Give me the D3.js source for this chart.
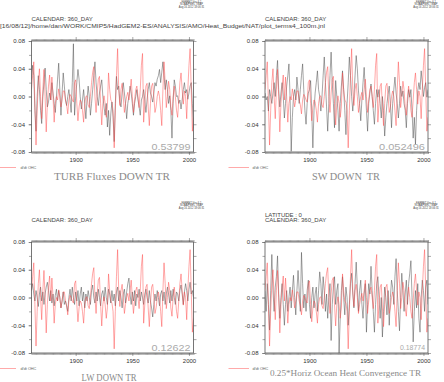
<!DOCTYPE html>
<html>
<head>
<meta charset="utf-8">
<script src="https://cdn.jsdelivr.net/npm/d3@7"></script>
<style>
body { margin: 0; background: #fff; }
svg text { font-family: "Liberation Sans", Arial, sans-serif; }
svg text.title { font-family: "Liberation Serif", "Times New Roman", serif; }
</style>
</head>
<body>
<svg id="chart" width="444" height="382"></svg>
<script>
// annual values, first year = startYear
const startYear = 1861;

const ohcTrend = [
  0.010, 0.030, 0.050, -0.010, -0.070, -0.020, 0.020, 0.040, 0.000, -0.032,
  0.010, 0.039, 0.000, -0.051, -0.010, 0.015, 0.031, -0.005, 0.028, 0.000,
  -0.037, -0.010, 0.000, -0.005, 0.011, 0.000, -0.015, -0.005, 0.008, 0.008,
  -0.005, -0.012, -0.025, -0.005, 0.003, 0.000, -0.005, -0.008, 0.020, 0.024,
  -0.010, -0.035, -0.015, -0.005, -0.008, -0.020, -0.037, -0.010, 0.000, 0.001,
  -0.012, -0.016, 0.000, 0.020, 0.035, 0.043, 0.000, -0.023, 0.005, 0.025,
  0.029, -0.010, -0.041, -0.010, 0.001, -0.010, -0.030, -0.015, 0.034, 0.010,
  -0.005, -0.008, -0.020, -0.074, -0.020, 0.030, 0.069, 0.010, -0.013, 0.010,
  0.019, 0.000, -0.023, -0.010, 0.000, 0.006, -0.005, 0.010, 0.025, 0.000,
  -0.023, -0.005, 0.010, 0.015, 0.000, -0.016, 0.010, 0.045, 0.062, -0.037,
  -0.010, 0.015, 0.019, -0.015, -0.042, -0.010, 0.015, 0.019, 0.000, -0.023,
  -0.015, 0.000, 0.008, 0.000, -0.020, -0.042, 0.010, 0.050, 0.020, -0.016,
  0.000, 0.022, 0.010, -0.015, -0.027, 0.000, 0.015, 0.000, -0.020, -0.030,
  -0.005, 0.020, 0.034, 0.010, -0.011, 0.008, 0.000, -0.032, 0.010, 0.045,
  0.069, 0.010, -0.050, -0.030
];

const turbDown = [
  0.024, 0.045, 0.030, -0.020, -0.050, 0.000, 0.030, 0.010, -0.020, -0.039,
  0.000, 0.020, 0.041, 0.010, -0.015, -0.008, 0.005, -0.005, 0.020, 0.005,
  -0.010, -0.023, 0.000, 0.025, 0.048, 0.010, -0.027, 0.005, 0.034, 0.015,
  -0.005, -0.013, 0.000, 0.010, -0.005, -0.023, 0.020, 0.076, -0.027, 0.000,
  0.020, 0.039, 0.025, 0.000, -0.018, -0.005, 0.010, -0.010, -0.032, -0.005,
  0.015, 0.000, -0.027, -0.010, 0.010, 0.030, 0.050, 0.020, 0.000, -0.013,
  0.005, 0.015, 0.024, 0.000, -0.015, -0.027, -0.010, -0.044, -0.020, -0.056,
  -0.025, -0.008, -0.030, -0.065, -0.010, 0.029, 0.010, 0.015, -0.008, -0.015,
  0.005, 0.020, 0.005, -0.010, -0.032, -0.010, 0.000, 0.015, 0.005, -0.010,
  -0.027, -0.010, 0.000, 0.010, -0.005, -0.015, -0.027, -0.005, 0.000, 0.010,
  -0.005, -0.023, -0.005, 0.010, 0.020, 0.005, 0.000, -0.008, 0.005, 0.020,
  0.015, 0.025, 0.030, 0.039, 0.020, 0.035, 0.050, 0.030, 0.010, 0.024,
  0.010, -0.010, 0.001, -0.020, -0.060, -0.010, 0.024, 0.015, 0.000, 0.001,
  -0.010, -0.005, -0.018, -0.005, 0.010, 0.020, 0.005, 0.010, -0.004, 0.005,
  0.015, 0.020, -0.010, -0.046
];

const swDown = [
  0.005, -0.005, 0.000, -0.021, 0.010, 0.000, -0.010, 0.005, 0.020, 0.000,
  0.030, 0.052, 0.010, -0.015, 0.005, 0.020, 0.000, -0.031, -0.010, 0.015,
  0.030, 0.047, 0.000, -0.079, -0.030, 0.000, 0.010, -0.005, 0.028, 0.010,
  -0.010, 0.010, 0.030, 0.047, 0.010, -0.020, -0.040, -0.010, 0.005, 0.010,
  0.023, -0.020, -0.074, -0.020, 0.005, 0.020, 0.037, 0.010, 0.000, -0.021,
  0.000, 0.030, 0.057, 0.020, -0.015, -0.050, -0.010, 0.030, 0.064, 0.020,
  -0.010, -0.045, 0.023, 0.000, -0.020, -0.050, -0.010, 0.015, 0.037, 0.010,
  -0.020, -0.055, -0.010, 0.020, 0.057, 0.030, 0.000, -0.021, 0.000, 0.030,
  0.059, 0.040, 0.008, -0.010, -0.035, -0.005, 0.020, 0.042, 0.010, -0.020,
  -0.050, -0.010, 0.005, 0.018, 0.000, -0.020, -0.040, -0.010, 0.010, -0.001,
  0.010, -0.010, -0.031, 0.000, -0.020, -0.057, -0.030, -0.010, 0.003, 0.015,
  -0.010, -0.045, -0.010, 0.010, 0.028, 0.005, -0.010, -0.031, -0.010, 0.015,
  0.000, 0.008, -0.010, -0.020, -0.045, -0.010, 0.010, -0.001, 0.010, -0.020,
  -0.060, -0.030, -0.069, -0.020, 0.008, 0.020, 0.010, 0.037, 0.020, 0.000,
  0.013, 0.020, -0.001, 0.010
];

const lwDown = [
  0.010, 0.020, 0.005, -0.005, 0.010, 0.000, -0.013, 0.005, 0.015, -0.005,
  0.008, -0.010, 0.005, 0.015, 0.022, 0.010, -0.005, 0.010, -0.008, 0.005,
  -0.012, 0.003, 0.012, -0.005, 0.010, 0.000, -0.015, -0.005, 0.008, -0.010,
  -0.005, -0.012, -0.020, 0.000, 0.012, -0.005, 0.015, 0.000, -0.010, 0.008,
  -0.005, 0.010, -0.012, 0.005, 0.015, -0.005, 0.008, -0.015, 0.005, -0.005,
  0.010, 0.000, -0.010, 0.010, 0.018, 0.000, -0.008, 0.008, -0.005, 0.012,
  0.000, -0.012, 0.005, 0.010, -0.005, 0.015, 0.000, -0.010, 0.012, 0.005,
  -0.008, 0.010, -0.005, 0.005, -0.012, 0.008, 0.015, -0.005, 0.010, 0.000,
  -0.015, 0.005, 0.012, -0.008, 0.008, 0.020, 0.028, 0.005, -0.010, 0.008,
  -0.005, 0.010, -0.012, 0.005, 0.000, 0.012, -0.005, 0.008, 0.000, -0.010,
  0.005, 0.012, 0.000, -0.008, 0.010, -0.005, -0.015, -0.028, -0.010, 0.005,
  -0.005, 0.010, 0.000, -0.012, 0.005, 0.010, -0.005, 0.008, -0.010, 0.005,
  0.015, 0.005, -0.008, 0.010, -0.005, 0.012, 0.000, -0.010, 0.008, 0.005,
  -0.005, 0.010, 0.018, 0.005, -0.010, 0.008, 0.020, 0.010, -0.005, 0.012,
  0.022, 0.005, 0.010, 0.000
];

const horizConv = [
  0.010, -0.020, 0.020, -0.010, -0.047, 0.010, 0.062, 0.010, -0.020, 0.015,
  0.030, 0.060, 0.005, -0.030, 0.000, 0.020, -0.010, -0.040, -0.010, 0.010,
  -0.020, 0.000, 0.015, -0.015, 0.010, 0.032, 0.000, -0.025, 0.010, 0.039,
  0.010, -0.020, 0.065, 0.020, -0.015, 0.005, -0.020, 0.010, 0.025, -0.010,
  -0.030, 0.000, 0.015, -0.015, 0.005, 0.015, -0.020, 0.010, 0.037, 0.020,
  -0.010, 0.030, 0.010, -0.020, 0.005, -0.030, 0.000, 0.020, -0.062, -0.010,
  0.015, 0.030, -0.010, 0.010, 0.020, -0.080, -0.030, 0.010, 0.030, 0.000,
  -0.025, 0.015, 0.000, -0.040, -0.010, 0.020, 0.035, 0.005, -0.015, 0.020,
  0.051, 0.015, -0.020, 0.010, 0.025, -0.010, -0.030, 0.005, 0.020, -0.050,
  -0.010, 0.020, 0.005, 0.045, 0.010, -0.020, -0.050, -0.010, 0.020, 0.030,
  0.000, -0.030, 0.000, -0.057, -0.020, 0.015, 0.000, -0.025, 0.010, -0.040,
  0.000, 0.025, 0.015, -0.010, 0.030, 0.056, 0.010, -0.020, -0.048, 0.000,
  0.035, 0.010, -0.020, 0.005, 0.025, -0.010, 0.020, 0.035, 0.053, 0.000,
  -0.064, -0.020, 0.010, -0.015, 0.020, -0.030, -0.050, 0.000, 0.025, 0.010,
  -0.020, 0.015, 0.025, -0.010
];

const yTicks = [-0.08, -0.04, 0, 0.04, 0.08];
const yMinorTicks = [-0.08, -0.06, -0.04, -0.02, 0, 0.02, 0.04, 0.06, 0.08];
const xTicks = [1900, 1950, 2000];
const panelTitles = ["TURB Fluxes DOWN TR", "SW DOWN  TR", "LW DOWN TR", "0.25*Horiz Ocean Heat Convergence TR"];
const correlations = ["0.53799", "0.052496", "0.12622", "0.18774"];
const legendLabel = "d/dt OHC";
const calendarLabel = "CALENDAR: 360_DAY";
const latitudeLabel = "LATITUDE : 0";
const pathLabel = "[16/08/12]/home/dan/WORK/CMIP5/HadGEM2-ES/ANALYSIS/AMO/Heat_Budget/NAT/plot_terms4_100m.jnl";
const ferretLines = ["FERRET Ver. 6.1", "NOAA/PMEL TMAP", "Aug 16 2012 18:06:31"];

const years = d3.range(startYear, startYear + ohcTrend.length);
const svg = d3.select("#chart");

const panels = [
  { series: turbDown, left: 31.5, right: 193.5, top: 41, bottom: 152, ox: 0, oy: 0,
    title: panelTitles[0], titleX: 112, titleY: 180, titleSize: 10.5, titleLen: 116,
    corr: correlations[0], corrSize: 9.5, corrLen: 39, corrY: 150, path: true },
  { series: swDown, left: 265, right: 428, top: 41, bottom: 152, ox: 222, oy: 0,
    title: panelTitles[1], titleX: 346, titleY: 180, titleSize: 10.5, titleLen: 68,
    corr: correlations[1], corrSize: 9.5, corrLen: 46, corrY: 150 },
  { series: lwDown, left: 31.5, right: 193.5, top: 242, bottom: 353, ox: 0, oy: 201,
    title: panelTitles[2], titleX: 109, titleY: 381, titleSize: 10.5, titleLen: 55,
    corr: correlations[2], corrSize: 9.5, corrLen: 39, corrY: 351 },
  { series: horizConv, left: 265, right: 428, top: 242, bottom: 353, ox: 222, oy: 201,
    title: panelTitles[3], titleX: 345.5, titleY: 376, titleSize: 8, titleLen: 151,
    corr: correlations[3], corrSize: 7.5, corrLen: 25, corrY: 350, latitude: true }
];

panels.forEach((p, i) => {
  const g = svg.append("g");
  const x = d3.scaleLinear().domain([1861, 2004]).range([p.left, p.right]);
  const y = d3.scaleLinear().domain([-0.08, 0.08]).range([p.bottom, p.top]);

  // ferret stamp
  const stampX = p.right - 2;
  ferretLines.forEach((t, j) => {
    g.append("text").attr("x", stampX).attr("y", p.oy + 2.8 + j * 2.6)
      .attr("text-anchor", "middle").attr("font-size", 2.6).attr("fill", "#444").text(t);
  });

  if (p.latitude) {
    g.append("text").attr("x", p.left).attr("y", p.oy + 15.5)
      .attr("font-size", 6).attr("fill", "#444").text(latitudeLabel);
  }
  g.append("text").attr("x", p.left).attr("y", p.oy + 21)
    .attr("font-size", 6).attr("fill", "#444").text(calendarLabel);
  if (p.path) {
    g.append("text").attr("x", 0).attr("y", p.oy + 28)
      .attr("font-size", 6).attr("fill", "#444")
      .attr("textLength", 325).attr("lengthAdjust", "spacingAndGlyphs").text(pathLabel);
  }

  const clipId = "clip" + i;
  svg.append("clipPath").attr("id", clipId).append("rect")
    .attr("x", p.left).attr("y", p.top).attr("width", p.right - p.left).attr("height", p.bottom - p.top);

  const line = d3.line().x((d, k) => x(years[k])).y(d => y(d));

  g.append("path").datum(p.series)
    .attr("clip-path", `url(#${clipId})`)
    .attr("fill", "none").attr("stroke", "#444").attr("stroke-width", 0.6)
    .attr("stroke-opacity", 0.8).attr("d", line);
  g.append("path").datum(ohcTrend)
    .attr("clip-path", `url(#${clipId})`)
    .attr("fill", "none").attr("stroke", "#ff4848").attr("stroke-width", 0.6)
    .attr("stroke-opacity", 0.8).attr("d", line);

  // axes
  const allYears = d3.range(1861, 2005);
  const axisStyle = sel => {
    sel.select(".domain").remove();
    sel.selectAll("line").attr("stroke", "#555").attr("stroke-width", 0.5);
    sel.selectAll("text").attr("fill", "#333").attr("font-size", 6);
  };
  g.append("g").attr("transform", `translate(0,${p.bottom})`)
    .call(d3.axisBottom(x).tickValues(allYears).tickSize(2).tickFormat(""))
    .call(axisStyle);
  g.append("g").attr("transform", `translate(0,${p.bottom})`)
    .call(d3.axisBottom(x).tickValues(xTicks).tickSize(3).tickPadding(3).tickFormat(d3.format("d")))
    .call(axisStyle);
  g.append("g").attr("transform", `translate(0,${p.top})`)
    .call(d3.axisTop(x).tickValues(allYears).tickSize(2).tickFormat(""))
    .call(axisStyle);
  g.append("g").attr("transform", `translate(0,${p.top})`)
    .call(d3.axisTop(x).tickValues(xTicks).tickSize(4).tickFormat(""))
    .call(axisStyle);
  g.append("g").attr("transform", `translate(${p.left},0)`)
    .call(d3.axisLeft(y).tickValues(yMinorTicks).tickSize(2.5).tickFormat(""))
    .call(axisStyle);
  g.append("g").attr("transform", `translate(${p.left},0)`)
    .call(d3.axisLeft(y).tickValues(yTicks).tickSize(3).tickPadding(3.5).tickFormat(d => d.toFixed(2)))
    .call(axisStyle);
  g.append("g").attr("transform", `translate(${p.right},0)`)
    .call(d3.axisRight(y).tickValues(yMinorTicks).tickSize(3).tickFormat(""))
    .call(axisStyle);

  g.append("rect").attr("x", p.left).attr("y", p.top)
    .attr("width", p.right - p.left).attr("height", p.bottom - p.top)
    .attr("fill", "none").attr("stroke", "#555").attr("stroke-width", 0.8);

  // correlation value
  g.append("text").attr("x", p.right - 3).attr("y", p.corrY)
    .attr("text-anchor", "end").attr("font-size", p.corrSize).attr("fill", "#aaa")
    .attr("textLength", p.corrLen).attr("lengthAdjust", "spacingAndGlyphs").text(p.corr);

  // legend
  const ly = p.oy + 167.5;
  g.append("line").attr("x1", p.ox + (p.ox ? 6.5 : 0)).attr("x2", p.ox + (p.ox ? 27 : 16))
    .attr("y1", ly).attr("y2", ly).attr("stroke", "#ff7070").attr("stroke-width", 0.6);
  g.append("text").attr("x", p.ox + (p.ox ? 30.5 : 20.5)).attr("y", ly + 1.3)
    .attr("font-size", 3.8).attr("fill", "#666").text(legendLabel);

  // title
  g.append("text").attr("class", "title").attr("x", p.titleX).attr("y", p.titleY)
    .attr("text-anchor", "middle").attr("font-size", p.titleSize)
    .attr("fill", "#8a8a8a").style("white-space", "pre")
    .attr("textLength", p.titleLen).attr("lengthAdjust", "spacingAndGlyphs").text(p.title);
});
</script>
</body>
</html>
